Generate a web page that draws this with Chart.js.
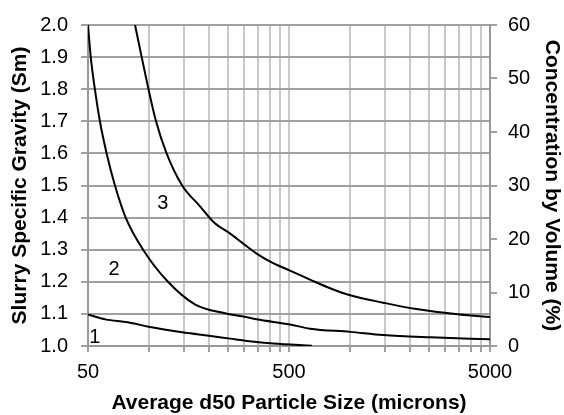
<!DOCTYPE html>
<html>
<head>
<meta charset="utf-8">
<script src="https://cdn.jsdelivr.net/npm/chart.js@4.4.1/dist/chart.umd.min.js"></script>
<style>
  html, body { margin: 0; padding: 0; background: #fff; }
</style>
</head>
<body>
<canvas id="chart" width="564" height="415"></canvas>
<script>
// x positions (microns) and slurry SG
var curve1X = [50, 61, 79, 100, 150, 200, 255, 318, 417, 650];
var curve1Y = [1.098, 1.083, 1.074, 1.060, 1.042, 1.032, 1.023, 1.015, 1.008, 1.001];

var curve2X = [50, 51.6, 54.1, 57.3, 61.9, 68.1, 77, 94, 125, 170, 240, 296, 345, 506, 636, 1008, 1471, 2532, 5000];
var curve2Y = [2.0, 1.9, 1.8, 1.7, 1.6, 1.5, 1.4, 1.3, 1.2, 1.13, 1.102, 1.092, 1.083, 1.067, 1.054, 1.044, 1.034, 1.027, 1.021];

var curve3X = [85.7, 92.5, 100, 109, 123, 147, 180, 212, 255, 296, 345, 417, 506, 636, 800, 1008, 1471, 2151, 3535, 5000];
var curve3Y = [2.0, 1.9, 1.8, 1.7, 1.6, 1.5, 1.436, 1.385, 1.35, 1.319, 1.288, 1.258, 1.235, 1.207, 1.18, 1.158, 1.135, 1.115, 1.098, 1.09];

// axis ticks
var xTickValues = [50, 100, 150, 200, 250, 300, 350, 400, 450, 500,
                   1000, 1500, 2000, 2500, 3000, 3500, 4000, 4500, 5000];
var xTickLabels = [50, 500, 5000];
var smMin = 1.0, smMax = 2.0, smStep = 0.1;
var cvMin = 0, cvMax = 60, cvStep = 10;

// curve numbers, placed in data units
var curveLabelText = ['1', '2', '3'];
var curveLabelX = [54, 67.4, 117.8];
var curveLabelY = [1.028, 1.239, 1.443];

function toPoints(xs, ys) {
    return xs.map(function (x, i) { return { x: x, y: ys[i] }; });
}

var FONT = "'Liberation Sans', Arial, sans-serif";

var curveLabels = {
    id: 'curveLabels',
    afterDatasetsDraw: function (chart) {
        var ctx = chart.ctx;
        var xs = chart.scales.x, ys = chart.scales.y;
        ctx.save();
        ctx.fillStyle = '#000';
        ctx.font = '20px ' + FONT;
        ctx.textAlign = 'center';
        ctx.textBaseline = 'middle';
        for (var i = 0; i < curveLabelText.length; i++) {
            ctx.fillText(curveLabelText[i], xs.getPixelForValue(curveLabelX[i]), ys.getPixelForValue(curveLabelY[i]));
        }
        ctx.restore();
    }
};

var lineStyle = {
    borderColor: '#000',
    borderWidth: 2,
    pointRadius: 0,
    fill: false,
    cubicInterpolationMode: 'monotone',
    yAxisID: 'y'
};

var ctx = document.getElementById('chart').getContext('2d');
var myChart = new Chart(ctx, {
    type: 'line',
    data: {
        datasets: [
            Object.assign({ label: '1', data: toPoints(curve1X, curve1Y) }, lineStyle),
            Object.assign({ label: '2', data: toPoints(curve2X, curve2Y) }, lineStyle),
            Object.assign({ label: '3', data: toPoints(curve3X, curve3Y) }, lineStyle)
        ]
    },
    options: {
        responsive: false,
        animation: false,
        layout: { padding: { top: 19, left: 0, right: 0, bottom: 0 } },
        plugins: {
            legend: { display: false },
            tooltip: { enabled: false }
        },
        scales: {
            x: {
                type: 'logarithmic',
                position: 'bottom',
                min: 50,
                max: 5000,
                afterBuildTicks: function (scale) {
                    scale.ticks = xTickValues.map(function (v) { return { value: v }; });
                },
                afterFit: function (scale) { scale.height = 69; },
                ticks: {
                    autoSkip: false,
                    maxRotation: 0,
                    padding: 8,
                    color: '#000',
                    font: { family: FONT, size: 20 },
                    callback: function (value) {
                        return xTickLabels.indexOf(value) >= 0 ? String(value) : '';
                    }
                },
                grid: { color: '#c8c8c8', tickColor: '#a0a0a0', lineWidth: 2, tickLength: 6 },
                border: { color: '#999', width: 2 },
                title: {
                    display: true,
                    text: 'Average d50 Particle Size (microns)',
                    color: '#000',
                    font: { family: FONT, size: 21, weight: 'bold', lineHeight: 1 },
                    padding: { top: 0, bottom: 1.5 }
                }
            },
            y: {
                type: 'linear',
                position: 'left',
                min: smMin,
                max: smMax,
                afterFit: function (scale) { scale.width = 88; },
                ticks: {
                    stepSize: smStep,
                    padding: 13,
                    color: '#000',
                    font: { family: FONT, size: 20 },
                    callback: function (v) { return v.toFixed(1); }
                },
                grid: { color: '#a0a0a0', tickColor: '#a0a0a0', lineWidth: 2, tickLength: 7 },
                border: { color: '#999', width: 2 },
                title: {
                    display: true,
                    text: 'Slurry Specific Gravity (Sm)',
                    color: '#000',
                    font: { family: FONT, size: 21, weight: 'bold', lineHeight: 1 },
                    padding: { top: 9.5, bottom: 0 }
                }
            },
            y2: {
                type: 'linear',
                position: 'right',
                min: cvMin,
                max: cvMax,
                afterFit: function (scale) { scale.width = 74; },
                ticks: {
                    stepSize: cvStep,
                    padding: 11,
                    color: '#000',
                    font: { family: FONT, size: 20 }
                },
                grid: { drawOnChartArea: false, tickColor: '#a0a0a0', lineWidth: 2, tickLength: 7 },
                border: { color: '#999', width: 2 },
                title: {
                    display: true,
                    text: 'Concentration by Volume (%)',
                    color: '#000',
                    font: { family: FONT, size: 21, weight: 'bold', lineHeight: 1 },
                    padding: { top: 1.5, bottom: 0 }
                }
            }
        }
    },
    plugins: [curveLabels]
});
</script>
</body>
</html>
